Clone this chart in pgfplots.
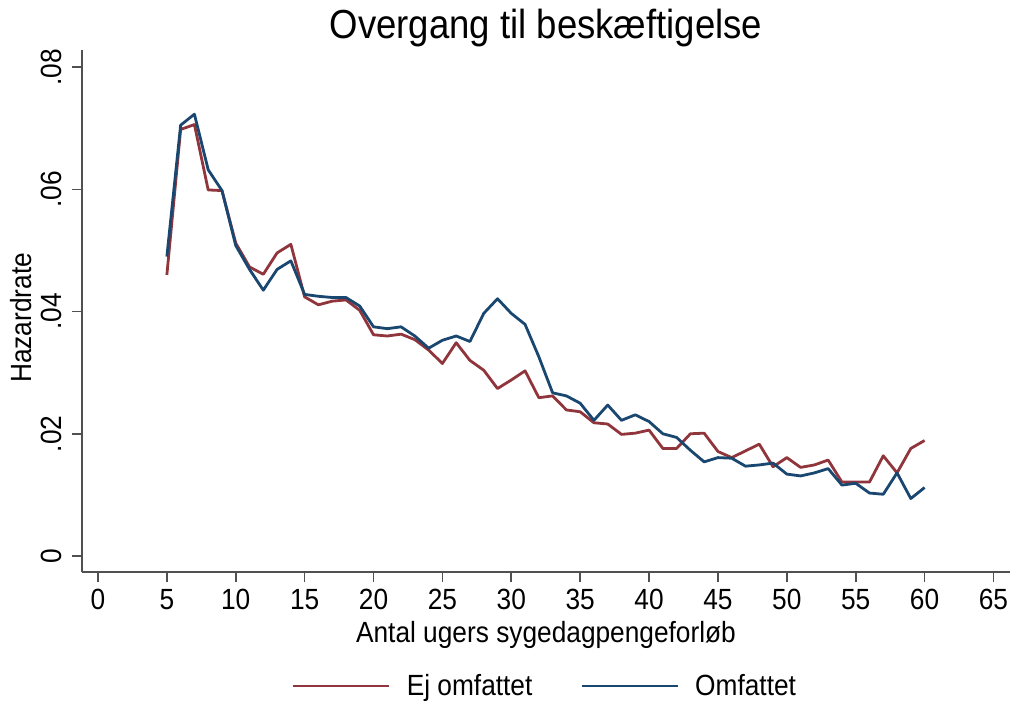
\documentclass[border=0pt]{standalone}
\usepackage{fontspec}
\setmainfont{Liberation Sans}[FakeStretch=0.9]
\usepackage{pgfplots}
\pgfplotsset{compat=1.18}

\definecolor{ejred}{RGB}{144,53,59}
\definecolor{omblue}{RGB}{26,71,111}
\definecolor{axgray}{RGB}{80,80,80}

\pgfplotstableread{
uge ej om
5 0.0460 0.0490
6 0.0698 0.0705
7 0.0706 0.0723
8 0.0599 0.0632
9 0.0598 0.0598
10 0.0512 0.0508
11 0.0473 0.0469
12 0.0461 0.0435
13 0.0496 0.0469
14 0.0510 0.0483
15 0.0424 0.0428
16 0.0411 0.0425
17 0.0417 0.0423
18 0.0419 0.0423
19 0.0402 0.0409
20 0.0362 0.0375
21 0.0360 0.0372
22 0.0363 0.0375
23 0.0354 0.0360
24 0.0337 0.0340
25 0.0315 0.0353
26 0.0349 0.0360
27 0.0320 0.0351
28 0.0304 0.0397
29 0.0274 0.0421
30 0.0288 0.0397
31 0.0303 0.0379
32 0.0259 0.0326
33 0.0262 0.0267
34 0.0239 0.0262
35 0.0236 0.0250
36 0.0218 0.0222
37 0.0216 0.0247
38 0.0199 0.0222
39 0.0201 0.0231
40 0.0206 0.0220
41 0.0176 0.0200
42 0.0176 0.0194
43 0.0200 0.0173
44 0.0201 0.0154
45 0.0171 0.0161
46 0.0161 0.0160
47 0.0172 0.0147
48 0.0183 0.0149
49 0.0146 0.0152
50 0.0161 0.0134
51 0.0145 0.0131
52 0.0149 0.0136
53 0.0157 0.0143
54 0.0121 0.0116
55 0.0121 0.0119
56 0.0121 0.0103
57 0.0164 0.0101
58 0.0136 0.0136
59 0.0176 0.0094
60 0.0189 0.0112
}\hazard

\begin{document}
\begin{tikzpicture}
\useasboundingbox (-41bp,-65bp) rectangle (464bp,286bp);
\begin{axis}[
    at={(0,0)}, anchor=south west,
    scale only axis,
    width=464bp, height=261bp,
    xmin=-1.16, xmax=66.2,
    ymin=-0.00262, ymax=0.0828,
    scaled y ticks=false,
    axis lines*=left,
    axis line style={axgray, line width=0.8bp},
    tick align=outside,
    major tick length=5bp,
    tick style={axgray, line width=0.8bp},
    xtick={0,5,...,65},
    xticklabels={0,5,10,15,20,25,30,35,40,45,50,55,60,65},
    ytick={0,0.02,0.04,0.06,0.08},
    yticklabels={0,.02,.04,.06,.08},
    /pgf/number format/assume math mode=true,
    xticklabel style={font=\fontsize{14.6bp}{17bp}\selectfont, anchor=north, inner sep=3.5bp},
    yticklabel style={font=\fontsize{14.6bp}{17bp}\selectfont, rotate=90, anchor=south, inner sep=5bp},
    title={Overgang til beskæftigelse},
    title style={font=\fontsize{20.3bp}{23bp}\selectfont, at={(0.5,1)}, anchor=base},
    xlabel={Antal ugers sygedagpengeforløb},
    xlabel style={font=\fontsize{14.6bp}{17bp}\selectfont, at={(0.5,0)}, anchor=base, yshift=-35bp},
    ylabel={Hazardrate},
    ylabel style={font=\fontsize{14.6bp}{17bp}\selectfont, at={(-0.0539,0.487)}, anchor=base},
    legend style={at={(0.5,-0.2184)}, anchor=center, draw=none, fill=none,
        font=\fontsize{14.6bp}{17bp}\selectfont, legend columns=2,
        /tikz/every odd column/.style={column sep=6bp},
        /tikz/every even column/.style={column sep=22bp},
        legend cell align=left},
    legend image code/.code={\draw[#1] (0bp,0bp) -- (48bp,0bp);},
]
\addplot[ejred, line width=1.4bp, line join=round] table[x=uge, y=ej] {\hazard};
\addplot[omblue, line width=1.4bp, line join=round] table[x=uge, y=om] {\hazard};
\legend{Ej omfattet, Omfattet}
\end{axis}
\end{tikzpicture}
\end{document}
